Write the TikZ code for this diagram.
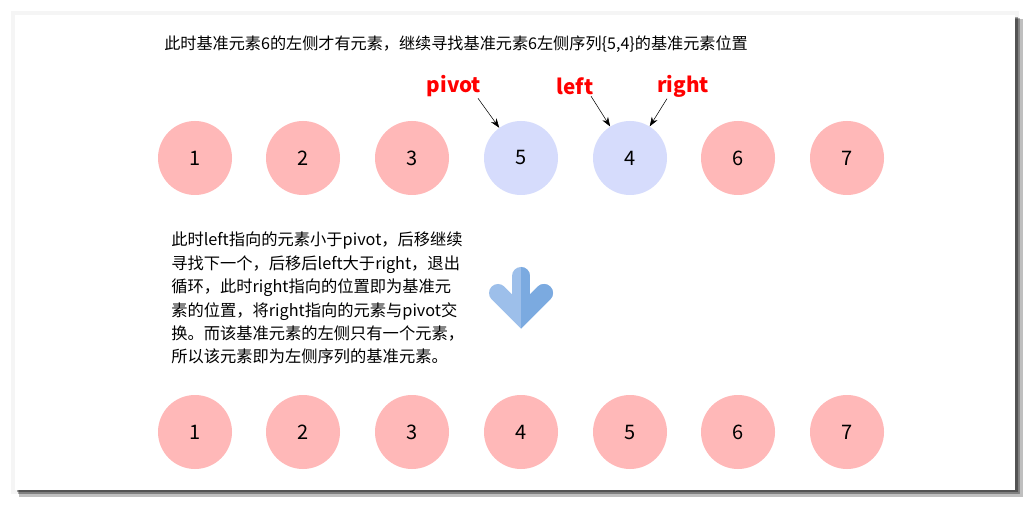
\documentclass[tikz,border=0pt]{standalone}
\usepackage{fontspec}
\setmainfont{Noto Sans CJK SC}
\usepackage{tikz}
\definecolor{ballpink}{RGB}{255, 184, 184}
\definecolor{ballblue}{RGB}{214, 220, 252}
\definecolor{downlight}{RGB}{157, 191, 234}
\definecolor{downdark}{RGB}{123, 170, 224}
\usetikzlibrary{arrows.meta,positioning,calc}

\begin{document}
\begin{tikzpicture}[
    x=0.75pt, y=-0.75pt,
    ball/.style={circle, minimum size=55.5pt, inner sep=0pt, font=\fontsize{15}{18}\selectfont},
    tag/.style={text=red, inner sep=1pt, font=\bfseries\fontsize{15.5}{18}\selectfont},
    pointer/.style={-{Stealth[length=7pt, width=5pt]}, thin},
    note/.style={align=left, inner sep=0pt, font=\fontsize{12.2}{17.55}\selectfont}
]
    \useasboundingbox (0,0) rectangle (1030,505);
    % Card and shadow
    \fill[black, opacity=0.04] (11,11) rectangle (1019,494);
    \fill[black, opacity=0.25] (19,19) rectangle (1023,497);
    \fill[black, opacity=0.3] (18,18) rectangle (1020,494);
    \fill[black, opacity=0.35] (17,17) rectangle (1018,492);
    \fill[white] (15,15) rectangle (1015,490);

    % Title
    \node[anchor=west, inner sep=0pt, font=\fontsize{12.1}{14}\selectfont] (title) at (164,44) {此时基准元素6的左侧才有元素，继续寻找基准元素6左侧序列\{5,4\}的基准元素位置};

    % First row
    \node[ball, fill=ballpink] (a1) at (195,158) {1};
    \node[ball, fill=ballpink] (a2) at (303,158) {2};
    \node[ball, fill=ballpink] (a3) at (412,158) {3};
    \node[ball, fill=ballblue] (a5) at (521,158) {5};
    \node[ball, fill=ballblue] (a4) at (630,158) {4};
    \node[ball, fill=ballpink] (a6) at (738,158) {6};
    \node[ball, fill=ballpink] (a7) at (847,158) {7};

    % Pointers
    \node[tag] (pivot) at (454,86) {pivot};
    \node[tag] (left) at (575,86) {left};
    \node[tag] (right) at (683,86) {right};
    \draw[pointer] ($(pivot.south)+(24,0)$) -- (a5);
    \draw[pointer] ($(left.south)+(16,0)$) -- (a4);
    \draw[pointer] ($(right.south)+(-16,0)$) -- (a4);

    % Explanation
    \node[note, anchor=north west] (explain) at (171,232) {此时left指向的元素小于pivot，后移继续\\寻找下一个，后移后left大于right，退出\\循环，此时right指向的位置即为基准元\\素的位置，将right指向的元素与pivot交\\换。而该基准元素的左侧只有一个元素，\\所以该元素即为左侧序列的基准元素。};

    % Down arrow
    \draw[downlight, line width=13.5pt, line cap=round] (521,276) -- (521,312);
    \draw[downlight, line width=13.5pt, line cap=round, line join=miter] (498,293) -- (521,316) -- (544,293);
    \begin{scope}
        \clip (521,250) rectangle (570,345);
        \draw[downdark, line width=13.5pt, line cap=round] (521,276) -- (521,312);
        \draw[downdark, line width=13.5pt, line cap=round, line join=miter] (498,293) -- (521,316) -- (544,293);
    \end{scope}

    % Second row
    \node[ball, fill=ballpink] (b1) at (195,432) {1};
    \node[ball, fill=ballpink] (b2) at (303,432) {2};
    \node[ball, fill=ballpink] (b3) at (412,432) {3};
    \node[ball, fill=ballpink] (b4) at (521,432) {4};
    \node[ball, fill=ballpink] (b5) at (630,432) {5};
    \node[ball, fill=ballpink] (b6) at (738,432) {6};
    \node[ball, fill=ballpink] (b7) at (847,432) {7};
\end{tikzpicture}
\end{document}
